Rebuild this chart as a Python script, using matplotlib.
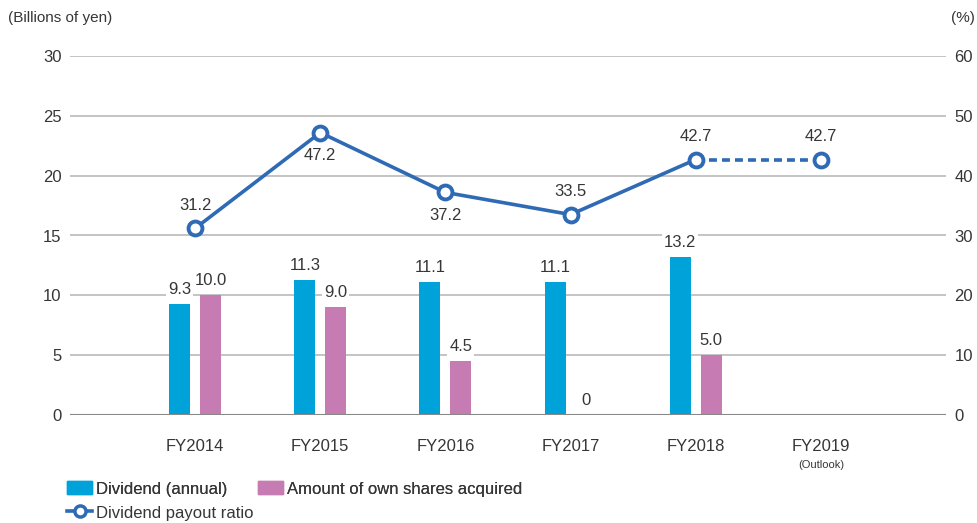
import matplotlib
matplotlib.use("Agg")
import matplotlib.pyplot as plt
from matplotlib.lines import Line2D
from matplotlib.patches import Patch
import numpy as np

categories = ["FY2014", "FY2015", "FY2016", "FY2017", "FY2018", "FY2019"]
dividend = [9.3, 11.3, 11.1, 11.1, 13.2]
own_shares = [10.0, 9.0, 4.5, 0.0, 5.0]
payout_ratio = [31.2, 47.2, 37.2, 33.5, 42.7, 42.7]
payout_label_pos = ["above", "below", "below", "above", "above", "above"]

left_ticks = [0, 5, 10, 15, 20, 25, 30]
right_ticks = [0, 10, 20, 30, 40, 50, 60]

C_DIV = "#00A3D9"
C_OWN = "#C67BB2"
C_LINE = "#2F6BB5"
C_TXT = "#363636"
C_GRID = "#B4B4B4"

plt.rcParams["font.family"] = ["Liberation Sans", "DejaVu Sans"]

fig = plt.figure(figsize=(9.77, 5.23), dpi=100)
ax = fig.add_axes([70/977, 108/523, 876/977, 359/523])
ax2 = ax.twinx()

x = np.arange(len(categories))
w = 0.167
off = 0.124
xb = x[:len(dividend)]

ax.set_xlim(-1, 6)
ax.set_ylim(0, 30)
ax2.set_ylim(0, 60)
ax.set_yticks(left_ticks)
ax2.set_yticks(right_ticks)

for yv in left_ticks[1:]:
    ax.axhline(yv, color=C_GRID, lw=1.1, zorder=0)
ax.axhline(0, color="#888888", lw=1.5, zorder=3)

ax.bar(xb - off, dividend, width=w, color=C_DIV, zorder=2)
ax.bar(xb + off, own_shares, width=w, color=C_OWN, zorder=2)

bbox = dict(boxstyle="square,pad=0.12", fc="white", ec="none")
for xi, v in zip(xb, dividend):
    ax.annotate(f"{v:.1f}", (xi - off, v), xytext=(0, 5), textcoords="offset points",
                ha="center", va="bottom", fontsize=12, color=C_TXT, bbox=bbox, zorder=4)
for xi, v in zip(xb, own_shares):
    lab = "0" if v == 0 else f"{v:.1f}"
    ax.annotate(lab, (xi + off, v), xytext=(0, 5), textcoords="offset points",
                ha="center", va="bottom", fontsize=12, color=C_TXT, bbox=bbox, zorder=4)

ax2.plot(x[:5], payout_ratio[:5], color=C_LINE, lw=2.6, zorder=5)
ax2.plot(x[4:], payout_ratio[4:], color=C_LINE, lw=2.6, ls=(0, (2.2, 1.4)), zorder=5)
ax2.plot(x, payout_ratio, ls="none", marker="o", ms=10, mfc="white", mec=C_LINE, mew=2.8, zorder=6)
for xi, v, pos in zip(x, payout_ratio, payout_label_pos):
    dy = 11 if pos == "above" else -11
    ax2.annotate(f"{v:.1f}", (xi, v), xytext=(0, dy), textcoords="offset points",
                 ha="center", va="bottom" if pos == "above" else "top",
                 fontsize=12, color=C_TXT, zorder=7)

for a in (ax, ax2):
    for s in a.spines.values():
        s.set_visible(False)
    a.tick_params(length=0, labelsize=12, labelcolor=C_TXT)
ax.tick_params(axis="y", pad=6)
ax2.tick_params(axis="y", pad=6)
ax.set_xticks(x)
ax.set_xticklabels(categories)
ax.tick_params(axis="x", pad=17)
ax.text(x[5], -0.14, "(Outlook)", transform=ax.get_xaxis_transform(),
        ha="center", va="center", fontsize=8, color=C_TXT)

fig.text(8/977, 1 - 18/523, "(Billions of yen)", ha="left", va="center", fontsize=11, color=C_TXT)
fig.text(975/977, 1 - 18/523, "(%)", ha="right", va="center", fontsize=11, color=C_TXT)

h_div = Patch(color=C_DIV, label="Dividend (annual)")
h_own = Patch(color=C_OWN, label="Amount of own shares acquired")
h_pay = Line2D([], [], color=C_LINE, lw=2.6, marker="o", ms=8, mfc="white", mec=C_LINE, mew=2.5,
               label="Dividend payout ratio")
common = dict(frameon=False, fontsize=12, handlelength=1.5, handleheight=0.8,
              handletextpad=0.25, borderpad=0.0, borderaxespad=0.0)
leg1 = fig.legend(handles=[h_div, h_own], ncol=2, loc="center left",
                  bbox_to_anchor=(67/977, 1 - 489/523), columnspacing=1.8, **common)
leg2 = fig.legend(handles=[h_pay], loc="center left",
                  bbox_to_anchor=(67/977, 1 - 513/523), **common)
fig.add_artist(leg1)
for lg in (leg1, leg2):
    for t in lg.get_texts():
        t.set_color(C_TXT)

fig.savefig("out.png", dpi=100)
